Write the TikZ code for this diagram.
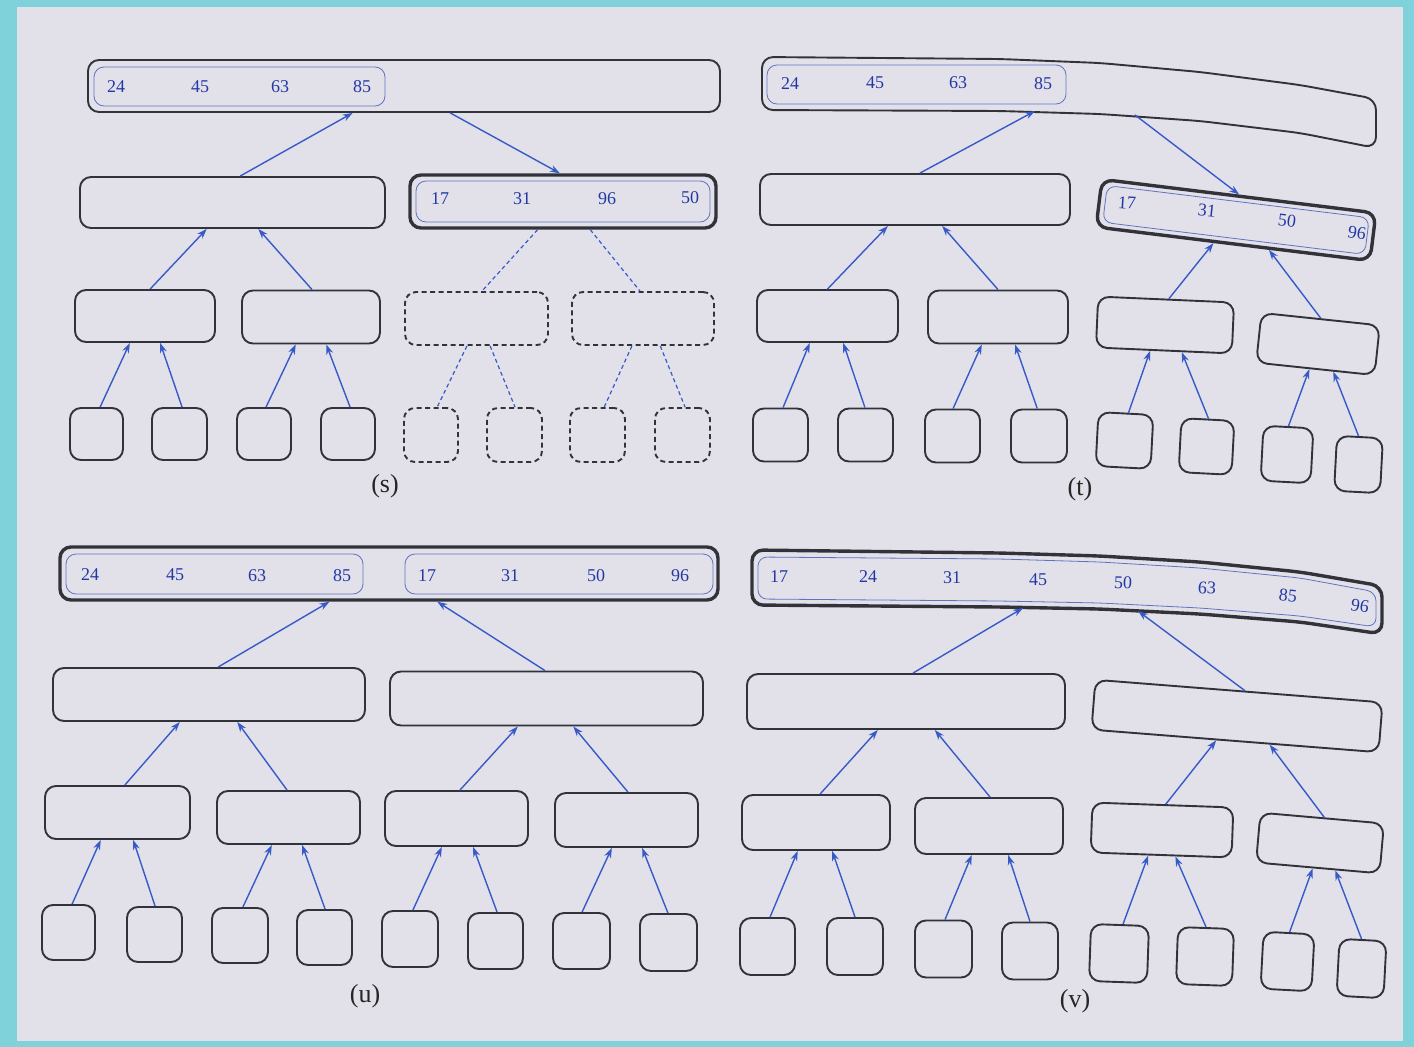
\documentclass[tikz,border=0pt]{standalone}
\usepackage{fontspec}
\setmainfont{Liberation Serif}
\usetikzlibrary{arrows.meta,calc}
\definecolor{bgpage}{RGB}{226,225,233}
\definecolor{cyanb}{RGB}{128,210,218}
\definecolor{edgeg}{RGB}{50,50,58}
\definecolor{numb}{RGB}{35,55,165}
\definecolor{lineb}{RGB}{55,90,200}
\definecolor{innerb}{RGB}{95,115,195}
\newcommand\myup[4]{\draw[arr] ($(#1.north west)!#2!(#1.north east)$) -- ($(#3.south west)!#4!(#3.south east)$);}
\newcommand\mydn[4]{\draw[dln] ($(#1.south west)!#2!(#1.south east)$) -- ($(#3.north west)!#4!(#3.north east)$);}
\begin{document}
\begin{tikzpicture}[x=1pt,y=-1pt,
  box/.style={draw=edgeg, line width=1.9pt, rounded corners=11pt, inner sep=0pt},
  tbox/.style={box, line width=3.4pt},
  dbox/.style={box, dash pattern=on 5pt off 3.5pt},
  ibox/.style={draw=innerb, line width=0.8pt, rounded corners=10pt, inner sep=0pt},
  num/.style={text=numb, font=\fontsize{18}{18}\selectfont, inner sep=0pt},
  lab/.style={text=black!85, font=\fontsize{26}{26}\selectfont, inner sep=0pt},
  arr/.style={draw=lineb, line width=1.4pt, -{Stealth[length=10pt,width=7pt]}},
  dln/.style={draw=lineb, line width=1.2pt, dash pattern=on 4pt off 3pt}]
\fill[cyanb] (0,0) rectangle (1414,1047);
\fill[bgpage] (17,7) rectangle (1403,1041);
\useasboundingbox (0,0) rectangle (1414,1047);

% ================= (s) =================
\node[box, minimum width=632pt, minimum height=52pt] (sR) at (404,86) {};
\node[ibox, minimum width=291pt, minimum height=39pt] (sRi) at (239.5,86.5) {};
\node[num] (s24) at (116,87) {24};
\node[num] (s45) at (200,87) {45};
\node[num] (s63) at (280,87) {63};
\node[num] (s85) at (362,87) {85};
\node[box, minimum width=305pt, minimum height=51pt] (sA) at (232.5,202.5) {};
\node[tbox, minimum width=306pt, minimum height=53pt] (sB) at (563,201.5) {};
\node[ibox, minimum width=294pt, minimum height=41pt] (sBi) at (563,201.5) {};
\node[num] (s17) at (440,199) {17};
\node[num] (s31) at (522,199) {31};
\node[num] (s96) at (607,199) {96};
\node[num] (s50) at (690,198) {50};
\node[box, minimum width=140pt, minimum height=52pt] (sC) at (145,316) {};
\node[box, minimum width=138pt, minimum height=53pt] (sD) at (311,317) {};
\node[dbox, minimum width=143pt, minimum height=53pt] (sE) at (476.5,318.5) {};
\node[dbox, minimum width=142pt, minimum height=53pt] (sF) at (643,318.5) {};
\node[box, minimum width=53pt, minimum height=52pt] (sL1) at (96.5,434) {};
\node[box, minimum width=55pt, minimum height=52pt] (sL2) at (179.5,434) {};
\node[box, minimum width=54pt, minimum height=52pt] (sL3) at (264,434) {};
\node[box, minimum width=54pt, minimum height=52pt] (sL4) at (348,434) {};
\node[dbox, minimum width=54pt, minimum height=54pt] (sL5) at (431,435) {};
\node[dbox, minimum width=55pt, minimum height=54pt] (sL6) at (514.5,435) {};
\node[dbox, minimum width=55pt, minimum height=54pt] (sL7) at (597.5,435) {};
\node[dbox, minimum width=55pt, minimum height=54pt] (sL8) at (682.5,435) {};
\node[lab] (sLab) at (385,486) {(s)};
\myup{sA}{0.525}{sR}{0.419}
\draw[arr] ($(sR.south west)!0.573!(sR.south east)$) -- ($(sB.north west)!0.49!(sB.north east)$);
\myup{sC}{0.536}{sA}{0.416}
\myup{sD}{0.507}{sA}{0.584}
\mydn{sB}{0.418}{sE}{0.538}
\mydn{sB}{0.588}{sF}{0.479}
\myup{sL1}{0.566}{sC}{0.393}
\myup{sL2}{0.545}{sC}{0.607}
\myup{sL3}{0.537}{sD}{0.391}
\myup{sL4}{0.537}{sD}{0.609}
\mydn{sE}{0.434}{sL5}{0.611}
\mydn{sE}{0.594}{sL6}{0.509}
\mydn{sF}{0.423}{sL7}{0.618}
\mydn{sF}{0.62}{sL8}{0.545}

% ================= (t) =================
\draw[box] (762,57) -- (1000,59) -- (1100,63) -- (1200,72) -- (1300,85) -- (1376,99) -- (1376,148) -- (1300,133) -- (1200,121) -- (1100,114) -- (1000,111) -- (762,110) -- cycle;
\node[ibox, minimum width=299pt, minimum height=39pt] (tRi) at (916.5,84.5) {};
\node[num] (t24) at (790,84) {24};
\node[num] (t45) at (875,83) {45};
\node[num] (t63) at (958,83) {63};
\node[num] (t85) at (1043,84) {85};
\coordinate (tRa) at (1035,111);
\coordinate (tRb) at (1135,115);
\node[box, minimum width=310pt, minimum height=51pt] (tA) at (915,199.5) {};
\node[tbox, minimum width=276pt, minimum height=48pt, rotate=-7] (tB) at (1236,220) {};
\node[ibox, minimum width=264pt, minimum height=37pt, rotate=-7, rounded corners=9pt] (tBi) at (1236,220) {};
\node[num, rotate=-4] (t17) at (1127,203) {17};
\node[num, rotate=-6] (t31) at (1207,211) {31};
\node[num, rotate=-7] (t50) at (1287,221) {50};
\node[num, rotate=-9] (t96) at (1357,233) {96};
\node[box, minimum width=141pt, minimum height=52pt] (tC) at (827.5,316) {};
\node[box, minimum width=140pt, minimum height=53pt] (tD) at (998,317) {};
\node[box, minimum width=136pt, minimum height=51pt, rotate=-2.5] (tE) at (1165,325) {};
\node[box, minimum width=119pt, minimum height=50pt, rotate=-6] (tF) at (1318,344) {};
\node[box, minimum width=55pt, minimum height=53pt] (tL1) at (780.5,435) {};
\node[box, minimum width=55pt, minimum height=53pt] (tL2) at (865.5,435) {};
\node[box, minimum width=55pt, minimum height=53pt] (tL3) at (952.5,436) {};
\node[box, minimum width=56pt, minimum height=53pt] (tL4) at (1039,436) {};
\node[box, minimum width=55pt, minimum height=54pt, rotate=-3] (tL5) at (1124.5,440.5) {};
\node[box, minimum width=53pt, minimum height=54pt, rotate=-3] (tL6) at (1206.5,446.5) {};
\node[box, minimum width=50pt, minimum height=55pt, rotate=-3] (tL7) at (1287,454.5) {};
\node[box, minimum width=46pt, minimum height=55pt, rotate=-3] (tL8) at (1358.5,464.5) {};
\node[lab] (tLab) at (1080,489) {(t)};
\draw[arr] ($(tA.north west)!0.516!(tA.north east)$) -- (tRa);
\draw[arr] (tRb) -- ($(tB.north west)!0.5!(tB.north east)$);
\myup{tC}{0.5}{tA}{0.413}
\myup{tD}{0.5}{tA}{0.587}
\myup{tE}{0.52}{tB}{0.43}
\myup{tF}{0.5}{tB}{0.63}
\myup{tL1}{0.545}{tC}{0.376}
\myup{tL2}{0.49}{tC}{0.61}
\myup{tL3}{0.51}{tD}{0.386}
\myup{tL4}{0.47}{tD}{0.62}
\myup{tL5}{0.545}{tE}{0.40}
\myup{tL6}{0.51}{tE}{0.63}
\myup{tL7}{0.5}{tF}{0.45}
\myup{tL8}{0.47}{tF}{0.65}

% ================= (u) =================
\node[tbox, minimum width=658pt, minimum height=53pt] (uR) at (389,573.5) {};
\node[ibox, minimum width=297pt, minimum height=40pt] (uRi1) at (214.5,574) {};
\node[ibox, minimum width=308pt, minimum height=40pt] (uRi2) at (559,574) {};
\node[num] (u24) at (90,575) {24};
\node[num] (u45) at (175,575) {45};
\node[num] (u63) at (257,576) {63};
\node[num] (u85) at (342,576) {85};
\node[num] (u17) at (427,576) {17};
\node[num] (u31) at (510,576) {31};
\node[num] (u50) at (596,576) {50};
\node[num] (u96) at (680,576) {96};
\node[box, minimum width=312pt, minimum height=53pt] (uA) at (209,694.5) {};
\node[box, minimum width=313pt, minimum height=54pt] (uB) at (546.5,698.5) {};
\node[box, minimum width=145pt, minimum height=53pt] (uC) at (117.5,812.5) {};
\node[box, minimum width=143pt, minimum height=53pt] (uD) at (288.5,817.5) {};
\node[box, minimum width=143pt, minimum height=55pt] (uE) at (456.5,818.5) {};
\node[box, minimum width=143pt, minimum height=54pt] (uF) at (626.5,820) {};
\node[box, minimum width=53pt, minimum height=55pt] (uL1) at (68.5,932.5) {};
\node[box, minimum width=55pt, minimum height=55pt] (uL2) at (154.5,934.5) {};
\node[box, minimum width=56pt, minimum height=55pt] (uL3) at (240,935.5) {};
\node[box, minimum width=55pt, minimum height=55pt] (uL4) at (324.5,937.5) {};
\node[box, minimum width=56pt, minimum height=56pt] (uL5) at (410,939) {};
\node[box, minimum width=55pt, minimum height=56pt] (uL6) at (495.5,941) {};
\node[box, minimum width=57pt, minimum height=56pt] (uL7) at (581.5,941) {};
\node[box, minimum width=57pt, minimum height=57pt] (uL8) at (668.5,942.5) {};
\node[lab] (uLab) at (365,996) {(u)};
\myup{uA}{0.529}{uR}{0.41}
\myup{uB}{0.495}{uR}{0.573}
\myup{uC}{0.55}{uA}{0.407}
\myup{uD}{0.49}{uA}{0.59}
\myup{uE}{0.524}{uB}{0.409}
\myup{uF}{0.51}{uB}{0.585}
\myup{uL1}{0.566}{uC}{0.386}
\myup{uL2}{0.51}{uC}{0.607}
\myup{uL3}{0.55}{uD}{0.385}
\myup{uL4}{0.51}{uD}{0.594}
\myup{uL5}{0.55}{uE}{0.399}
\myup{uL6}{0.527}{uE}{0.615}
\myup{uL7}{0.51}{uF}{0.399}
\myup{uL8}{0.49}{uF}{0.608}

% ================= (v) =================
\draw[tbox] (752,550) -- (1000,553) -- (1100,556) -- (1200,562) -- (1300,572) -- (1382,586) -- (1382,634) -- (1300,622) -- (1200,614) -- (1100,609) -- (1000,607) -- (752,605) -- cycle;
\draw[ibox, rounded corners=9pt] (758,557) -- (1000,559) -- (1100,562) -- (1200,568) -- (1300,578) -- (1376,592) -- (1376,627) -- (1300,616) -- (1200,608) -- (1100,603) -- (1000,601) -- (758,599) -- cycle;
\node[num] (v17) at (779,577) {17};
\node[num] (v24) at (868,577) {24};
\node[num] (v31) at (952,578) {31};
\node[num] (v45) at (1038,580) {45};
\node[num, rotate=-2] (v50) at (1123,583) {50};
\node[num, rotate=-4] (v63) at (1207,588) {63};
\node[num, rotate=-6] (v85) at (1288,596) {85};
\node[num, rotate=-9] (v96) at (1360,606) {96};
\coordinate (vRa) at (1023,608);
\coordinate (vRb) at (1138,611);
\node[box, minimum width=318pt, minimum height=55pt] (vA) at (906,701.5) {};
\node[box, minimum width=288pt, minimum height=50pt, rotate=-4.5] (vB) at (1237,716) {};
\node[box, minimum width=148pt, minimum height=55pt] (vC) at (816,822.5) {};
\node[box, minimum width=148pt, minimum height=56pt] (vD) at (989,826) {};
\node[box, minimum width=141pt, minimum height=50pt, rotate=-2] (vE) at (1162,830) {};
\node[box, minimum width=124pt, minimum height=50pt, rotate=-5] (vF) at (1320,843) {};
\node[box, minimum width=55pt, minimum height=57pt] (vL1) at (767.5,946.5) {};
\node[box, minimum width=56pt, minimum height=57pt] (vL2) at (855,946.5) {};
\node[box, minimum width=57pt, minimum height=57pt] (vL3) at (943.5,949) {};
\node[box, minimum width=56pt, minimum height=57pt] (vL4) at (1030,951) {};
\node[box, minimum width=58pt, minimum height=57pt, rotate=-2] (vL5) at (1119,953.5) {};
\node[box, minimum width=56pt, minimum height=57pt, rotate=-2] (vL6) at (1205,956.5) {};
\node[box, minimum width=51pt, minimum height=57pt, rotate=-3] (vL7) at (1287.5,961.5) {};
\node[box, minimum width=47pt, minimum height=57pt, rotate=-3] (vL8) at (1361.5,968.5) {};
\node[lab] (vLab) at (1075,1001) {(v)};
\draw[arr] ($(vA.north west)!0.522!(vA.north east)$) -- (vRa);
\draw[arr] ($(vB.north west)!0.52!(vB.north east)$) -- (vRb);
\myup{vC}{0.527}{vA}{0.412}
\myup{vD}{0.507}{vA}{0.59}
\myup{vE}{0.52}{vB}{0.435}
\myup{vF}{0.516}{vB}{0.62}
\myup{vL1}{0.545}{vC}{0.378}
\myup{vL2}{0.5}{vC}{0.608}
\myup{vL3}{0.526}{vD}{0.385}
\myup{vL4}{0.5}{vD}{0.628}
\myup{vL5}{0.55}{vE}{0.41}
\myup{vL6}{0.5}{vE}{0.6}
\myup{vL7}{0.51}{vF}{0.46}
\myup{vL8}{0.47}{vF}{0.64}
\end{tikzpicture}
\end{document}
